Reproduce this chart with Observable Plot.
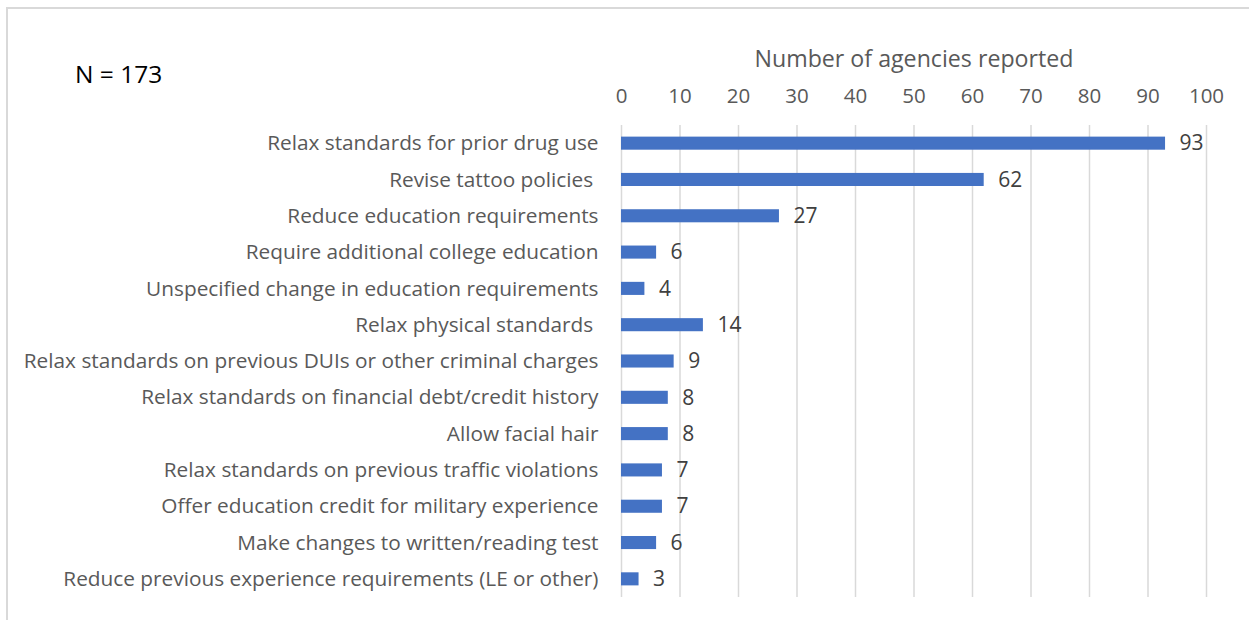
<!DOCTYPE html>
<html>
<head>
<meta charset="utf-8">
<script src="https://cdn.jsdelivr.net/npm/d3@7"></script>
<script src="https://cdn.jsdelivr.net/npm/@observablehq/plot@0.6"></script>
<style>
  html, body { margin: 0; padding: 0; background: #fff; overflow: hidden; }
  #wrap { position: relative; width: 1249px; height: 620px; }
  #frame { position: absolute; left: 6px; top: 7px; width: 1300px; height: 700px; border: 2px solid #d9d9d9; box-sizing: border-box; }
  #chart { position: absolute; left: 0; top: 0; }
  #n { position: absolute; left: 75px; top: 57px; font-family: "Open Sans", sans-serif; font-size: 24.5px; line-height: 34px; color: #000; }
</style>
</head>
<body>
<div id="wrap">
  <div id="frame"></div>
  <div id="chart"></div>
  <div id="n">N = 173</div>
</div>
<script>
const categories = [
  "Relax standards for prior drug use",
  "Revise tattoo policies ",
  "Reduce education requirements",
  "Require additional college education",
  "Unspecified change in education requirements",
  "Relax physical standards ",
  "Relax standards on previous DUIs or other criminal charges",
  "Relax standards on financial debt/credit history",
  "Allow facial hair",
  "Relax standards on previous traffic violations",
  "Offer education credit for military experience",
  "Make changes to written/reading test",
  "Reduce previous experience requirements (LE or other)"
];
const values = [93, 62, 27, 6, 4, 14, 9, 8, 8, 7, 7, 6, 3];
const xTicks = [0, 10, 20, 30, 40, 50, 60, 70, 80, 90, 100];
const axisTitle = "Number of agencies reported";

const data = categories.map((c, i) => ({category: c, value: values[i]}));

const chart = Plot.plot({
  width: 1249,
  height: 620,
  marginLeft: 621,
  marginRight: 43,
  marginTop: 125,
  marginBottom: 23,
  style: {fontFamily: "'Open Sans', sans-serif", color: "#595959", background: "transparent"},
  x: {domain: [0, 100], ticks: xTicks, axis: null},
  y: {domain: categories, paddingInner: 0.64, paddingOuter: 0.32, round: false, axis: null},
  marks: [
    Plot.ruleX(xTicks, {stroke: "#d9d9d9", strokeWidth: 1.5}),
    Plot.barX(data, {x: "value", y: "category", fill: "#4472C4"}),
    Plot.text(data, {x: "value", y: "category", text: d => String(d.value), textAnchor: "start", dx: 14, fontSize: 21, fill: "#404040"}),
    Plot.axisY({tickSize: 0, tickPadding: 23, fontSize: 20.8, label: null, fill: "#595959"}),
    Plot.axisX({anchor: "top", ticks: xTicks, tickSize: 0, tickPadding: 23, fontSize: 20.5, label: null, fill: "#595959"}),
    Plot.text([axisTitle], {frameAnchor: "top", dy: -75, fontSize: 23.2, fill: "#595959"})
  ]
});
document.getElementById("chart").appendChild(chart);
</script>
</body>
</html>
